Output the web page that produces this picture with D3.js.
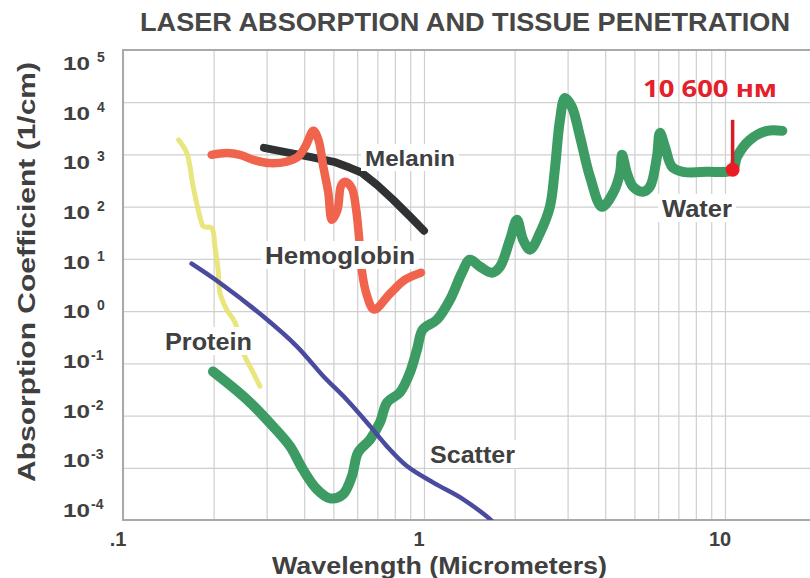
<!DOCTYPE html>
<html><head><meta charset="utf-8">
<script src="https://cdn.jsdelivr.net/npm/d3@7"></script>
<style>body{margin:0;background:#fff}svg{display:block}</style>
</head><body>
<svg id="chart" width="810" height="578"></svg>
<script>
// ---------- data ----------
const title = "LASER ABSORPTION AND TISSUE PENETRATION";
const xAxisTitle = "Wavelength (Micrometers)";
const yAxisTitle = "Absorption Coefficient (1/cm)";
const xTickValues = [0.1, 1, 10];
const xTickLabels = [".1", "1", "10"];
const yTickExponents = [5, 4, 3, 2, 1, 0, -1, -2, -3, -4];

const waterWl  = [0.199,0.258,0.315,0.359,0.396,0.441,0.487,0.538,0.576,0.604,0.662,0.714,0.754,0.832,0.898,0.948,0.99,1.104,1.22,1.337,1.42,1.535,1.683,1.788,1.93,2.037,2.133,2.25,2.43,2.62,2.72,2.83,2.94,3.10,3.30,3.56,3.90,4.25,4.48,4.55,4.72,4.95,5.34,5.63,5.94,6.08,6.32,6.67,7.25,8.71,10.6,10.96,12.1,13.8,15.5];
const waterAbs = [0.0697,0.0203,0.0062,0.00256,0.00093,0.000386,0.00026,0.00031,0.000685,0.00197,0.00349,0.00738,0.0178,0.0277,0.0667,0.184,0.443,0.687,1.66,5.45,9.66,7.1,5.45,7.1,23.3,56.2,23.3,15.0,31.7,99.5,508,4590,12080,8130,2170,373,99.5,184,445,982,445,240,193,240,900,2590,1400,580,465,465,508,900,1900,2830,2830];

const scatterWl  = [0.169,0.210,0.292,0.378,0.463,0.553,0.662,0.752,0.877,1.074,1.35,1.61,1.70];
const scatterAbs = [8.09,3.46,0.796,0.212,0.0566,0.0203,0.00627,0.0026,0.00108,0.000519,0.000249,0.000119,0.00009];

const proteinWl  = [0.153,0.163,0.171,0.180,0.185,0.197,0.202,0.207,0.210,0.221,0.236,0.251,0.271,0.285];
const proteinAbs = [1900,1060,243,65,41.8,39,17.3,6.2,2.23,1.07,0.594,0.159,0.0658,0.0365];

const hemoWl  = [0.197,0.221,0.245,0.271,0.308,0.350,0.381,0.403,0.429,0.446,0.463,0.481,0.494,0.516,0.530,0.546,0.575,0.594,0.608,0.621,0.645,0.682,0.771,0.865,0.977];
const hemoAbs = [982,1060,982,789,682,731,900,1400,2830,1900,580,184,56.2,87.3,251,299,230,95.3,26.9,6.2,2.07,1.07,2.16,4.0,5.45];

const melaninWl  = [0.294,0.340,0.418,0.502,0.568,0.622,0.698,0.789,0.898,1.0];
const melaninAbs = [1340,1135,900,722,554,445,262,136,65,34.6];

const markerWl = 10.6, markerAbs = 508, markerTopAbs = 4600;
const markerLabel = "10 600 нм";

// ---------- layout ----------
const svg = d3.select("#chart");
const pLeft = 123, pTop = 50, pBottom = 520, decade = 301;
const x = d3.scaleLog().domain([0.1, 20]).range([pLeft, pLeft + Math.log10(200) * decade]);
const y = d3.scaleLog().domain([1e-4, 1e5]).range([pBottom, pTop]);
const yLab = d3.scaleLog().domain([1e-4, 1e5]).range([517, 70]);
const font = "'Liberation Sans', Arial, Helvetica, sans-serif";
const txtCol = "#404040";

svg.append("rect").attr("width", 810).attr("height", 578).attr("fill", "#fff");

// grid
const xGrid = [];
[0.1, 1, 10].forEach(d => { for (let k = 1; k <= 9; k++) { const v = d * k; if (v <= 20) xGrid.push(v); } });
xGrid.push(20);
const yGrid = yTickExponents.map(e => Math.pow(10, e));

const gx = svg.append("g").attr("transform", `translate(0,${pBottom})`)
  .call(d3.axisBottom(x).tickValues(xGrid).tickSize(-(pBottom - pTop)).tickFormat(""));
gx.select(".domain").remove();
gx.selectAll("line").attr("stroke", "#cfcfcf").attr("stroke-width", 1.2);

const gy = svg.append("g").attr("transform", `translate(${pLeft},0)`)
  .call(d3.axisLeft(y).tickValues(yGrid).tickSize(-(x.range()[1] - pLeft)).tickFormat(""));
gy.select(".domain").remove();
gy.selectAll("line").attr("stroke", "#cfcfcf").attr("stroke-width", 1.2);

// frame
svg.append("rect").attr("x", pLeft).attr("y", pTop).attr("width", x.range()[1] - pLeft).attr("height", pBottom - pTop)
  .attr("fill", "none").attr("stroke", "#a9a9a9").attr("stroke-width", 2);

// curves
svg.append("clipPath").attr("id", "clip").append("rect")
  .attr("x", pLeft).attr("y", pTop).attr("width", x.range()[1] - pLeft).attr("height", pBottom - pTop);
const plot = svg.append("g").attr("clip-path", "url(#clip)");

function series(wl, ab) { return wl.map((w, i) => [w, ab[i]]); }
const smooth = d3.line().x(d => x(d[0])).y(d => y(d[1])).curve(d3.curveCatmullRom.alpha(0.5));
const straight = d3.line().x(d => x(d[0])).y(d => y(d[1])).curve(d3.curveLinear);

function draw(data, gen, color, w, op) {
  plot.append("path").attr("d", gen(data)).attr("fill", "none").attr("stroke", color)
    .attr("stroke-width", w).attr("stroke-linecap", "round").attr("stroke-linejoin", "round")
    .attr("stroke-opacity", op || 1);
}
draw(series(proteinWl, proteinAbs), smooth, "#e6e36e", 5, 0.9);
draw(series(waterWl, waterAbs), smooth, "#3d9c63", 10);
draw(series(scatterWl, scatterAbs), smooth, "#4a4a9e", 4.5);
draw(series(melaninWl, melaninAbs), straight, "#2f3133", 8);
draw(series(hemoWl, hemoAbs), smooth, "#f0634c", 8.5);

// labels with white backing
function label(t, px, py, size, len) {
  const g = svg.append("g");
  const te = g.append("text").attr("x", px).attr("y", py).text(t)
    .attr("font-family", font).attr("font-weight", "bold").attr("font-size", size)
    .attr("fill", txtCol).attr("textLength", len).attr("lengthAdjust", "spacingAndGlyphs");
  const b = te.node().getBBox();
  g.insert("rect", "text").attr("x", b.x - 4).attr("y", b.y - 2).attr("width", b.width + 8).attr("height", b.height + 2)
    .attr("fill", "#fff");
}
label("Melanin", 365, 166, 22, 90);
label("Hemoglobin", 265, 264, 23, 150);
label("Protein", 165, 350, 23, 87);
label("Scatter", 430, 463, 23, 85);
label("Water", 662, 217, 23, 70);

// marker
svg.append("line").attr("x1", x(markerWl)).attr("x2", x(markerWl)).attr("y1", y(markerTopAbs)).attr("y2", y(markerAbs))
  .attr("stroke", "#d81c28").attr("stroke-width", 3.5);
svg.append("circle").attr("cx", x(markerWl)).attr("cy", y(markerAbs)).attr("r", 7).attr("fill", "#ec1c24");
svg.append("text").attr("x", 643).attr("y", 97).text(markerLabel)
  .attr("font-family", "'Open Sans', 'Noto Sans', sans-serif").attr("font-weight", "bold").attr("font-size", 23)
  .attr("fill", "#e3202b").attr("textLength", 134).attr("lengthAdjust", "spacingAndGlyphs");

// title
svg.append("text").attr("x", 140).attr("y", 31).text(title)
  .attr("font-family", font).attr("font-weight", "bold").attr("font-size", 25)
  .attr("fill", "#474747").attr("textLength", 650).attr("lengthAdjust", "spacingAndGlyphs");

// y tick labels
const yl = svg.append("g").attr("font-family", font).attr("font-weight", "bold").attr("fill", txtCol);
yTickExponents.forEach(e => {
  const by = yLab(Math.pow(10, e));
  yl.append("text").attr("x", 63).attr("y", by).attr("font-size", 19).text("10")
    .attr("textLength", 27).attr("lengthAdjust", "spacingAndGlyphs");
  yl.append("text").attr("x", e < 0 ? 91 : 97).attr("y", by - 8).attr("font-size", 14).text(e < 0 ? "-" + (-e) : String(e));
});

// x tick labels
svg.append("g").selectAll("text").data(xTickValues).join("text")
  .attr("x", d => x(d) - 5).attr("y", 546).attr("text-anchor", "middle")
  .attr("font-family", font).attr("font-weight", "bold").attr("font-size", 20).attr("fill", txtCol)
  .text((d, i) => xTickLabels[i]);

// axis titles
svg.append("text").attr("x", 272).attr("y", 574).text(xAxisTitle)
  .attr("font-family", font).attr("font-weight", "bold").attr("font-size", 23).attr("fill", txtCol)
  .attr("textLength", 335).attr("lengthAdjust", "spacingAndGlyphs");
svg.append("text").attr("transform", "translate(35,482) rotate(-90)").text(yAxisTitle)
  .attr("font-family", font).attr("font-weight", "bold").attr("font-size", 23).attr("fill", txtCol)
  .attr("textLength", 420).attr("lengthAdjust", "spacingAndGlyphs");
</script>
</body></html>
